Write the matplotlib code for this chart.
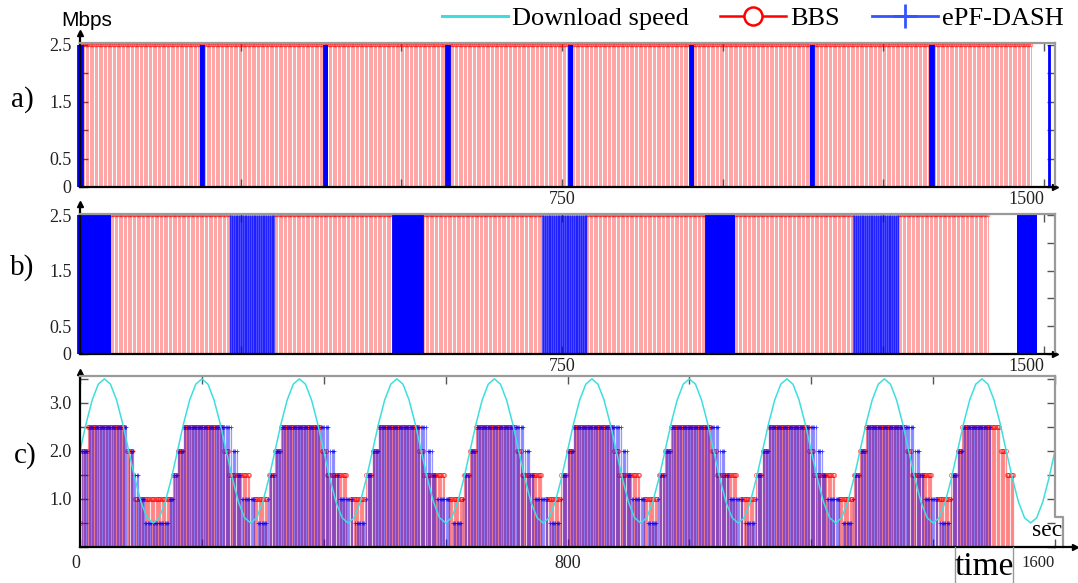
import numpy as np
import matplotlib
matplotlib.use('Agg')
import matplotlib.pyplot as plt
from matplotlib.lines import Line2D

plt.rcParams['font.family'] = ['Liberation Serif', 'DejaVu Serif']

# ---------------- data ----------------
# a) and b): x in segment units, every request is a stem at 2.5 Mbps
ab_level = 2.5
ab_step = 2.0            # one BBS request every 2 units
a_bbs_spans = [(3, 1481)]
a_epf_spans = [(-3, 5), (188, 194), (380, 386), (570, 576), (761, 767),
               (949, 955), (1137, 1143), (1323, 1329), (1508, 1510)]
b_bbs_spans = [(48, 233), (303, 487), (534, 719), (789, 974),
               (1019, 1203), (1274, 1414)]
b_epf_solid = [(-3, 48), (487, 534), (974, 1019), (1459, 1489)]
b_epf_mixed = [(233, 303), (719, 789), (1203, 1274)]

# c) download speed (Mbps) sampled every 10 s
speed_step = 10
speed = [2.0, 2.57, 3.06, 3.39, 3.5, 3.39, 3.06, 2.57, 2.0, 1.43, 0.94, 0.61, 0.5, 0.61, 0.94, 1.43,
         2.0, 2.57, 3.06, 3.39, 3.5, 3.39, 3.06, 2.57, 2.0, 1.43, 0.94, 0.61, 0.5, 0.61, 0.94, 1.43,
         2.0, 2.57, 3.06, 3.39, 3.5, 3.39, 3.06, 2.57, 2.0, 1.43, 0.94, 0.61, 0.5, 0.61, 0.94, 1.43,
         2.0, 2.57, 3.06, 3.39, 3.5, 3.39, 3.06, 2.57, 2.0, 1.43, 0.94, 0.61, 0.5, 0.61, 0.94, 1.43,
         2.0, 2.57, 3.06, 3.39, 3.5, 3.39, 3.06, 2.57, 2.0, 1.43, 0.94, 0.61, 0.5, 0.61, 0.94, 1.43,
         2.0, 2.57, 3.06, 3.39, 3.5, 3.39, 3.06, 2.57, 2.0, 1.43, 0.94, 0.61, 0.5, 0.61, 0.94, 1.43,
         2.0, 2.57, 3.06, 3.39, 3.5, 3.39, 3.06, 2.57, 2.0, 1.43, 0.94, 0.61, 0.5, 0.61, 0.94, 1.43,
         2.0, 2.57, 3.06, 3.39, 3.5, 3.39, 3.06, 2.57, 2.0, 1.43, 0.94, 0.61, 0.5, 0.61, 0.94, 1.43,
         2.0, 2.57, 3.06, 3.39, 3.5, 3.39, 3.06, 2.57, 2.0, 1.43, 0.94, 0.61, 0.5, 0.61, 0.94, 1.43,
         2.0, 2.57, 3.06, 3.39, 3.5, 3.39, 3.06, 2.57, 2.0, 1.43, 0.94, 0.61, 0.5, 0.61, 0.94, 1.43,
         2.0]

# c) chosen bitrate runs (start s, end s, Mbps) relative to each 160 s period
c_step = 2.0
period_starts = [0, 160, 320, 480, 640, 800, 960, 1120, 1280, 1440]
bbs_first = [(0, 2, 0.5), (3, 13, 2.0), (13, 74, 2.5), (77, 87, 2.0), (90, 152, 1.0), (152, 160, 1.5)]
bbs_steady = [(0, 10, 2.0), (10, 75, 2.5), (77, 85, 2.0), (85, 118, 1.5), (125, 148, 1.0), (150, 160, 1.5)]
bbs_last = [(0, 8, 2.0), (8, 70, 2.5), (71, 80, 2.0), (81, 92, 1.5)]
epf_first = [(3, 13, 2.0), (13, 77, 2.5), (80, 88, 2.0), (88, 96, 1.5), (96, 106, 1.0),
             (106, 146, 0.5), (146, 154, 1.0), (154, 160, 1.5)]
epf_steady = [(0, 10, 2.0), (10, 89, 2.5), (90, 98, 2.0), (98, 105, 1.5), (105, 128, 1.0),
              (131, 148, 0.5), (148, 151, 1.0), (151, 160, 1.5)]
epf_last = [(0, 8, 2.0), (8, 55, 2.5)]

RED = '#ff0000'
BLUE = '#0000ff'
CYAN = '#3fdede'


def spans_to_x(spans, step):
    xs = []
    for s, e in spans:
        xs.extend(np.arange(s, e, step))
    return np.array(xs)


def runs_to_xy(runs, offset, step, shift=0.0):
    xs, ys = [], []
    for s, e, lev in runs:
        t = np.arange(s + shift, e, step) + offset
        xs.extend(t)
        ys.extend([lev] * len(t))
    return np.array(xs), np.array(ys)


fig = plt.figure(figsize=(10.78, 5.83), dpi=100)
W, H = 1078, 583


def add_axes(left, top, right, bottom):
    return fig.add_axes([left / W, 1 - bottom / H, (right - left) / W, (bottom - top) / H])


ax_a = add_axes(80, 43, 1055, 187)
ax_b = add_axes(80, 214, 1055, 354)
ax_c = add_axes(80, 376, 1055, 547)


def style_axes(ax, ylim, yticks, ylabels, xlim, xticks, xlabels):
    ax.set_xlim(*xlim)
    ax.set_ylim(*ylim)
    ax.set_yticks(yticks)
    ax.set_yticklabels(ylabels)
    ax.set_xticks(xticks)
    ax.set_xticklabels(xlabels)
    ax.tick_params(direction='in', length=6, width=1, colors='#555555', labelcolor='#222222',
                   labelsize=13, top=True, right=True, pad=6)
    ax.tick_params(axis='x', pad=3)
    for side in ['top', 'right']:
        ax.spines[side].set_color('#9a9a9a')
        ax.spines[side].set_linewidth(1.6)
    for side in ['left', 'bottom']:
        ax.spines[side].set_color('black')
        ax.spines[side].set_linewidth(1.6)


def axis_arrows(ax, up, right):
    ax.plot([0, 0], [1, 1 + up], color='black', lw=1.6, transform=ax.transAxes, clip_on=False)
    ax.plot([0], [1 + up], marker='^', color='black', ms=4.5, transform=ax.transAxes, clip_on=False)
    ax.plot([1, 1 + right], [0, 0], color='black', lw=1.6, transform=ax.transAxes, clip_on=False)
    ax.plot([1 + right], [0], marker='>', color='black', ms=4.5, transform=ax.transAxes, clip_on=False)


# ---- a) ----
x = spans_to_x(a_bbs_spans, ab_step)
ax_a.vlines(x, 0, ab_level, color=RED, lw=0.65, alpha=0.38)
ax_a.plot(x, np.full(len(x), ab_level), 'o', color=RED, ms=2, mfc='none', mew=0.5, alpha=0.6)
x = spans_to_x(a_epf_spans, 1.0)
ax_a.vlines(x, 0, ab_level, color=BLUE, lw=1.3, clip_on=False)
style_axes(ax_a, (0, 2.53), [0, 0.5, 1, 1.5, 2, 2.5], ['0', '0.5', '', '1.5', '', '2.5'],
           (0, 1517), [250, 500, 750, 1000, 1250, 1500], ['', '', '750', '', '', '1500'])
axis_arrows(ax_a, 10 / 144, 0)
ax_a.get_xticklabels()[-1].set_ha('right')

# ---- b) ----
x = spans_to_x(b_bbs_spans, ab_step)
ax_b.vlines(x, 0, ab_level, color=RED, lw=0.65, alpha=0.38)
ax_b.plot(x, np.full(len(x), ab_level), 'o', color=RED, ms=2, mfc='none', mew=0.5, alpha=0.6)
x = spans_to_x(b_epf_mixed, 1.0)
ax_b.vlines(x, 0, ab_level, color=BLUE, lw=0.9, alpha=0.6)
x = spans_to_x(b_epf_solid, 1.0)
ax_b.vlines(x, 0, ab_level, color=BLUE, lw=1.3, clip_on=False)
style_axes(ax_b, (0, 2.52), [0, 0.5, 1, 1.5, 2, 2.5], ['0', '0.5', '', '1.5', '', '2.5'],
           (0, 1517), [250, 500, 750, 1000, 1250, 1500], ['', '', '750', '', '', '1500'])
axis_arrows(ax_b, 10 / 140, 0)
ax_b.get_xticklabels()[-1].set_ha('right')

# ---- c) ----
for i, p0 in enumerate(period_starts):
    if i == 0:
        bbs, epf = bbs_first, epf_first
    elif i == len(period_starts) - 1:
        bbs, epf = bbs_last, epf_last
    else:
        bbs, epf = bbs_steady, epf_steady
    bx, by = runs_to_xy(bbs, p0, c_step)
    ax_c.vlines(bx, 0, by, color=RED, lw=0.9, alpha=0.42)
    ax_c.plot(bx, by, 'o', color=RED, ms=3, mfc='none', mew=0.6, alpha=0.6)
    ex, ey = runs_to_xy(epf, p0, c_step, shift=1.0)
    ax_c.vlines(ex, 0, ey, color=BLUE, lw=0.9, alpha=0.4)
    ax_c.plot(ex, ey, '+', color=BLUE, ms=3.5, mew=0.7, alpha=0.6)

t = np.arange(len(speed)) * speed_step
ax_c.plot(t, speed, color=CYAN, lw=1.1)
style_axes(ax_c, (0, 3.56), [0, 0.5, 1, 1.5, 2, 2.5, 3, 3.5],
           ['', '', '1.0', '', '2.0', '', '3.0', ''],
           (0, 1600), [0, 200, 400, 600, 800, 1000, 1200, 1400, 1600],
           ['0', '', '', '', '800', '', '', '', '1600'])
ax_c.tick_params(axis='x', pad=6)
ax_c.get_xticklabels()[-1].set_ha('right')
ax_c.get_xticklabels()[-1].set_fontsize(12)
ax_c.get_xticklabels()[0].set_ha('right')
ax_c.spines['right'].set_visible(False)
notch = (547 - 517) / 171
ax_c.plot([1, 1, 1 + 8 / 975, 1 + 8 / 975], [1, notch, notch, 0], color='#9a9a9a', lw=1.6,
          transform=ax_c.transAxes, clip_on=False)
axis_arrows(ax_c, 4 / 171, 20 / 975)
ax_c.text(1062 / W, 1 - 531 / H, 'sec', transform=fig.transFigure, ha='right', va='center', fontsize=17)

# time box under panel c
fig.add_artist(Line2D([955 / W, 955 / W], [0, 36 / H], color='#999999', lw=1))
fig.add_artist(Line2D([1013 / W, 1013 / W], [0, 36 / H], color='#999999', lw=1))
fig.text(984 / W, 1 - 567 / H, 'time', ha='center', va='center', fontsize=24)

# panel labels and unit
fig.text(22 / W, 1 - 100 / H, 'a)', ha='center', va='center', fontsize=21)
fig.text(22 / W, 1 - 268 / H, 'b)', ha='center', va='center', fontsize=21)
fig.text(25 / W, 1 - 456 / H, 'c)', ha='center', va='center', fontsize=21)
fig.text(87 / W, 1 - 20 / H, 'Mbps', ha='center', va='center', fontsize=15,
         family=['Liberation Sans', 'DejaVu Sans'])

# legend
handles = [Line2D([], [], color=CYAN, lw=2.2),
           Line2D([], [], color=RED, lw=1.8, marker='o', ms=13, mfc='white', mew=1.8),
           Line2D([], [], color='#3355ff', lw=2, marker='+', ms=17, mew=2)]
fig.legend(handles, ['Download speed', 'BBS', 'ePF-DASH'], loc='upper right',
           bbox_to_anchor=(1066 / W, 1 - 4 / H), ncol=3, frameon=False, fontsize=19,
           handlelength=2.5, handletextpad=0.15, columnspacing=1.2,
           borderaxespad=0, borderpad=0.1)

fig.savefig('out.png', dpi=100)
